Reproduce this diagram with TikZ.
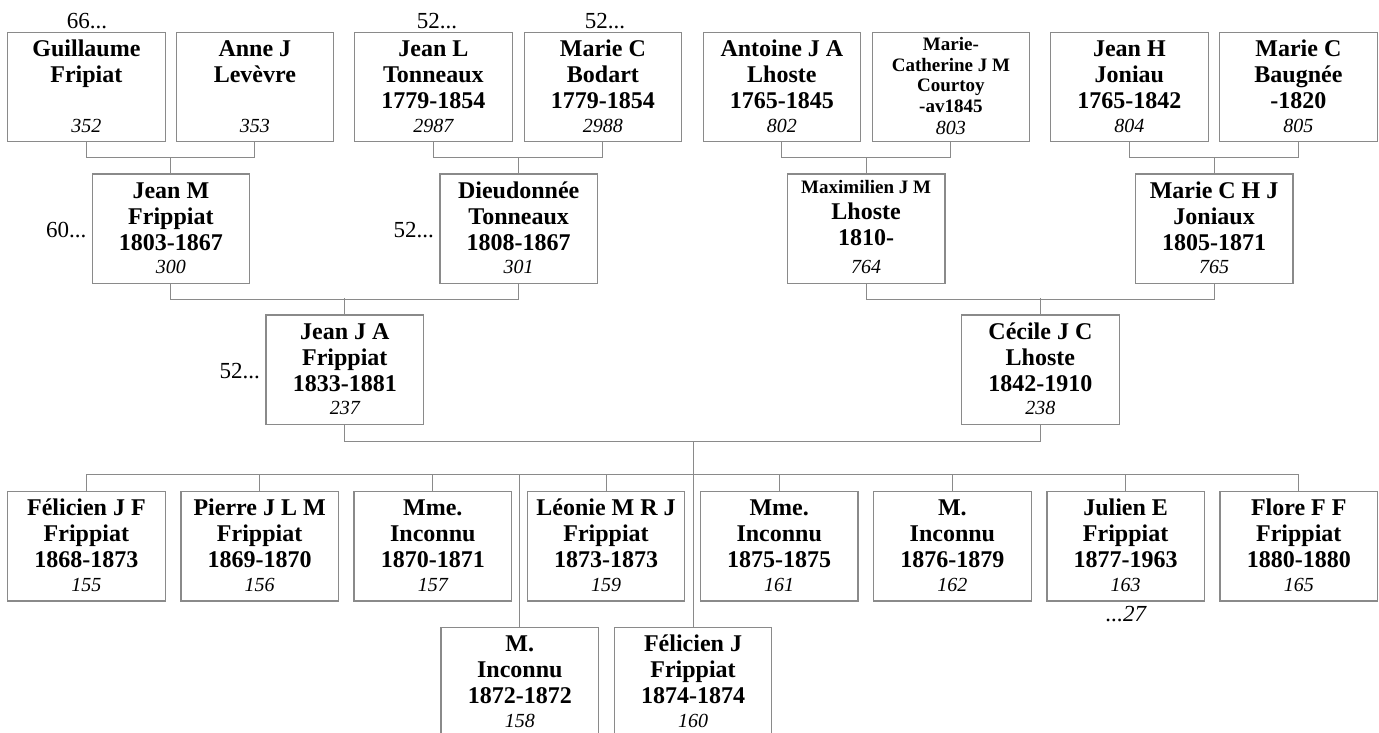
\documentclass[tikz,border=0pt]{standalone}
\usepackage{fontspec}
\setmainfont{Liberation Serif}
\definecolor{boxgray}{RGB}{138,138,138}
\newcommand\ptxt[3][6.3]{\parbox[c][109.5pt][s]{157.5pt}{\centering\vspace*{#1pt}#2\par\vfill{\mdseries\itshape\fontsize{20}{22}\selectfont #3\par}\vspace*{9.5pt}}}
\tikzset{
  pers/.style={draw=boxgray, line width=1.3pt, inner sep=0pt, anchor=north west, font=\fontsize{24}{26}\selectfont\bfseries},
  conn/.style={draw=boxgray, line width=1pt},
  lbl/.style={inner sep=0pt, font=\fontsize{23}{25}\selectfont}
}
\begin{document}
\begin{tikzpicture}[x=1pt,y=-1pt]
\useasboundingbox (0,0) rectangle (1379,733);
% row 1
\node[pers] (g)   at (7,31.7)     {\ptxt{\strut Guillaume\\Fripiat}{352}};
\node[pers] (a)   at (175.5,31.7) {\ptxt{\strut Anne J\\Levèvre}{353}};
\node[pers] (jl)  at (354,31.7)   {\ptxt{\strut Jean L\\Tonneaux\\1779-1854}{2987}};
\node[pers] (mcb) at (523.5,31.7) {\ptxt{\strut Marie C\\Bodart\\1779-1854}{2988}};
\node[pers] (ant) at (702.5,31.7) {\ptxt{\strut Antoine J A\\Lhoste\\1765-1845}{802}};
\node[pers] (mcc) at (871.5,31.7) {\ptxt[4]{{\fontsize{19}{20.5}\selectfont\strut Marie-\\Catherine J M\\Courtoy\\-av1845\par}}{803}};
\node[pers] (jh)  at (1050,31.7)  {\ptxt{\strut Jean H\\Joniau\\1765-1842}{804}};
\node[pers] (mbg) at (1219,31.7)  {\ptxt{\strut Marie C\\Baugnée\\-1820}{805}};
% row 2
\node[pers] (jm) at (91.5,173.3)  {\ptxt{\strut Jean M\\Frippiat\\1803-1867}{300}};
\node[pers] (dt) at (439.3,173.3) {\ptxt{\strut Dieudonnée\\Tonneaux\\1808-1867}{301}};
\node[pers] (mx) at (786.7,173.3) {\ptxt[6]{{\fontsize{19}{20}\selectfont\strut Maximilien J M\par}Lhoste\\1810-}{764}};
\node[pers] (mj) at (1134.7,173.3){\ptxt{\strut Marie C H J\\Joniaux\\1805-1871}{765}};
% row 3
\node[pers] (jja) at (265.4,314.3) {\ptxt{\strut Jean J A\\Frippiat\\1833-1881}{237}};
\node[pers] (cec) at (961,314.3)   {\ptxt{\strut Cécile J C\\Lhoste\\1842-1910}{238}};
% row 4
\node[pers] (f1) at (7,490.7)      {\ptxt{\strut Félicien J F\\Frippiat\\1868-1873}{155}};
\node[pers] (f2) at (180.2,490.7)  {\ptxt{\strut Pierre J L M\\Frippiat\\1869-1870}{156}};
\node[pers] (f3) at (353.4,490.7)  {\ptxt{\strut Mme.\\Inconnu\\1870-1871}{157}};
\node[pers] (f4) at (526.6,490.7)  {\ptxt{\strut Léonie M R J\\Frippiat\\1873-1873}{159}};
\node[pers] (f5) at (699.8,490.7)  {\ptxt{\strut Mme.\\Inconnu\\1875-1875}{161}};
\node[pers] (f6) at (873,490.7)    {\ptxt{\strut M.\\Inconnu\\1876-1879}{162}};
\node[pers] (f7) at (1046.2,490.7) {\ptxt{\strut Julien E\\Frippiat\\1877-1963}{163}};
\node[pers] (f8) at (1219.4,490.7) {\ptxt{\strut Flore F F\\Frippiat\\1880-1880}{165}};
% row 5
\node[pers] (lo1) at (440.4,626.7) {\ptxt{\strut M.\\Inconnu\\1872-1872}{158}};
\node[pers] (lo2) at (613.6,626.7) {\ptxt{\strut Félicien J\\Frippiat\\1874-1874}{160}};
% labels
\node[lbl, anchor=base] (l66) at (87,28.3) {66...};
\node[lbl, anchor=base] (l52a) at (437,28.3) {52...};
\node[lbl, anchor=base] (l52b) at (605,28.3) {52...};
\node[lbl, anchor=base east] (l60) at (86.5,237.3) {60...};
\node[lbl, anchor=base east] (l52c) at (434,237.3) {52...};
\node[lbl, anchor=base east] (l52d) at (260,378.3) {52...};
\node[lbl, anchor=base, font=\fontsize{23}{25}\selectfont\itshape] (l27) at (1126,621.7) {...27};
% connectors row1 -> row2
\draw[conn] (g.south) -- ++(0,15.3) -| (a.south);
\draw[conn] (jm.north) -- ++(0,-16);
\draw[conn] (jl.south) -- ++(0,15.3) -| (mcb.south);
\draw[conn] (dt.north) -- ++(0,-16);
\draw[conn] (ant.south) -- ++(0,15.3) -| (mcc.south);
\draw[conn] (mx.north) -- ++(0,-16);
\draw[conn] (jh.south) -- ++(0,15.3) -| (mbg.south);
\draw[conn] (mj.north) -- ++(0,-16);
% row2 -> row3
\draw[conn] (jm.south) -- ++(0,15.3) -| (dt.south);
\draw[conn] (jja.north) -- ++(0,-16);
\draw[conn] (mx.south) -- ++(0,15.3) -| (mj.south);
\draw[conn] (cec.north) -- ++(0,-16);
% row3 -> children
\draw[conn] (jja.south) -- ++(0,16) coordinate (fam) -| (cec.south);
\draw[conn] (lo2.north) -- (lo2.north |- fam);
\draw[conn] (f1.north) -- ++(0,-16.7) coordinate (kids) -| (f8.north);
\foreach \k in {f2,f3,f4,f5,f6,f7}{
  \draw[conn] (\k.north) -- (\k.north |- kids);
}
\draw[conn] (lo1.north) -- (lo1.north |- kids);
\end{tikzpicture}
\end{document}
